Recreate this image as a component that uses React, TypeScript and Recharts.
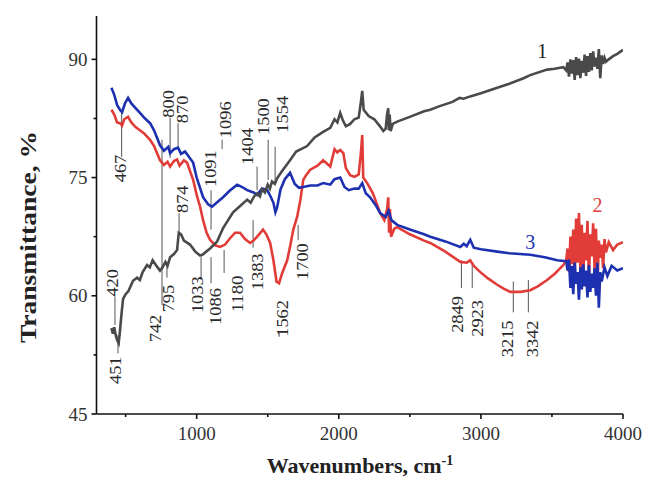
import React from 'react';
import { LineChart, Line, XAxis, YAxis, ReferenceLine, ReferenceDot } from 'recharts';

// Wavenumber (cm-1), transmittance (%)
const curve1: [number, number][] = [
  [400, 55.9], [410, 55.2], [420, 56.0], [430, 55.0], [440, 54.4], [451, 54.0], [460, 55.5], [470, 57.5],
  [482, 59.6], [500, 60.2], [520, 60.6], [552, 61.9], [580, 62.3], [600, 62.0], [620, 63.0], [651, 63.9],
  [670, 63.6], [690, 64.5], [721, 63.7], [742, 63.2], [756, 63.5], [780, 64.3], [795, 63.8], [813, 64.9],
  [840, 65.3], [862, 65.8], [874, 68.0], [890, 67.8], [910, 67.0], [953, 66.5], [990, 65.6], [1024, 65.1],
  [1040, 65.2], [1094, 66.0], [1144, 66.9], [1186, 68.6], [1256, 70.6], [1300, 71.3], [1355, 72.2],
  [1380, 71.8], [1404, 72.6], [1425, 73.0], [1445, 72.6], [1460, 73.5], [1480, 73.1], [1500, 74.1],
  [1515, 73.6], [1530, 74.5], [1550, 74.2], [1566, 74.9], [1600, 75.8], [1657, 77.2], [1700, 78.3],
  [1777, 79.0], [1830, 80.1], [1890, 80.8], [1940, 81.3], [1970, 82.4], [1990, 82.0], [2010, 83.2],
  [2030, 82.2], [2050, 81.5], [2080, 81.8], [2110, 82.4], [2140, 82.6], [2155, 84.5], [2165, 86.0],
  [2175, 83.6], [2210, 82.8], [2250, 82.4], [2290, 81.5], [2313, 80.9], [2330, 81.2], [2340, 83.0],
  [2348, 83.8], [2352, 81.0], [2358, 83.0], [2365, 80.9], [2380, 81.8], [2411, 82.1], [2500, 82.7],
  [2600, 83.4], [2644, 83.6], [2700, 84.0], [2800, 84.6], [2850, 85.1], [2878, 85.0], [2925, 85.3],
  [3000, 85.7], [3115, 86.4], [3200, 86.9], [3300, 87.6], [3347, 88.0], [3466, 88.7], [3520, 88.8],
  [3580, 89.0], [3600, 88.6], [3610, 89.6], [3620, 87.8], [3630, 90.0], [3640, 88.2], [3650, 89.9],
  [3660, 87.4], [3670, 90.3], [3680, 88.0], [3690, 90.1], [3700, 87.6], [3710, 89.8], [3720, 88.3],
  [3730, 90.6], [3740, 87.9], [3750, 90.4], [3760, 88.4], [3770, 90.8], [3780, 88.6], [3790, 91.0],
  [3800, 89.1], [3810, 90.2], [3820, 88.8], [3830, 91.3], [3840, 87.6], [3850, 90.5], [3860, 89.4],
  [3870, 90.2], [3880, 89.7], [3900, 90.0], [3930, 90.4], [3960, 90.7], [4000, 91.2],
];

const curve2: [number, number][] = [
  [400, 83.6], [420, 83.0], [440, 82.0], [460, 81.9], [475, 81.6], [490, 82.4], [517, 82.7], [540, 82.0],
  [570, 81.4], [600, 81.0], [630, 80.6], [672, 79.8], [700, 79.0], [742, 77.2], [770, 76.6], [795, 77.0],
  [813, 76.4], [840, 77.1], [862, 77.3], [880, 76.5], [910, 77.2], [932, 76.9], [975, 74.7], [1000, 72.8],
  [1024, 71.3], [1045, 69.6], [1070, 68.0], [1094, 67.1], [1130, 66.4], [1165, 66.2], [1200, 66.5],
  [1235, 67.3], [1270, 68.0], [1305, 68.0], [1340, 67.2], [1376, 66.7], [1400, 67.0], [1430, 67.6],
  [1467, 68.4], [1490, 67.8], [1517, 66.7], [1540, 64.5], [1562, 61.8], [1580, 61.6], [1600, 62.8],
  [1637, 64.5], [1660, 66.5], [1680, 68.4], [1707, 70.0], [1730, 72.2], [1750, 74.7], [1770, 75.3],
  [1799, 76.0], [1850, 76.5], [1890, 77.2], [1940, 76.4], [1970, 78.6], [1989, 78.2], [2010, 78.5],
  [2032, 78.1], [2050, 76.2], [2080, 75.3], [2110, 75.1], [2140, 75.4], [2155, 78.0], [2165, 80.4],
  [2172, 75.0], [2200, 74.3], [2240, 73.0], [2291, 70.5], [2320, 69.6], [2340, 71.0], [2348, 72.5],
  [2354, 68.0], [2360, 71.0], [2368, 67.5], [2390, 68.5], [2411, 68.7], [2500, 67.8], [2600, 67.0],
  [2644, 66.7], [2750, 65.6], [2855, 64.3], [2900, 64.2], [2925, 64.5], [2950, 63.8], [2996, 63.0],
  [3050, 62.2], [3115, 61.4], [3160, 60.9], [3207, 60.5], [3280, 60.5], [3347, 60.7], [3400, 61.2],
  [3466, 62.0], [3520, 62.8], [3580, 63.9], [3600, 64.5], [3610, 66.0], [3620, 63.0], [3630, 67.5],
  [3640, 64.0], [3650, 68.4], [3660, 62.5], [3670, 69.8], [3680, 64.2], [3690, 70.5], [3700, 63.5],
  [3710, 69.0], [3720, 61.5], [3730, 68.0], [3740, 64.5], [3750, 69.5], [3760, 62.0], [3770, 67.8],
  [3780, 65.0], [3790, 69.2], [3800, 63.2], [3810, 68.5], [3820, 60.8], [3830, 67.0], [3840, 64.8],
  [3850, 66.5], [3860, 63.5], [3870, 67.2], [3880, 65.5], [3900, 66.8], [3930, 65.8], [3960, 66.5],
  [4000, 66.8],
];

const curve3: [number, number][] = [
  [400, 86.4], [420, 85.5], [440, 84.2], [460, 83.6], [475, 83.3], [495, 84.4], [517, 85.1], [540, 84.4],
  [570, 83.8], [601, 83.2], [630, 82.6], [672, 81.9], [700, 81.0], [742, 79.1], [770, 78.4], [800, 78.9],
  [813, 78.1], [840, 78.6], [869, 78.8], [890, 78.0], [918, 78.3], [950, 77.5], [975, 76.9], [1000, 75.0],
  [1045, 72.5], [1080, 71.6], [1108, 71.3], [1140, 71.8], [1186, 72.5], [1230, 73.3], [1284, 74.1],
  [1320, 73.8], [1355, 73.4], [1400, 73.1], [1425, 72.8], [1460, 73.6], [1496, 73.4], [1520, 72.6],
  [1540, 71.8], [1554, 70.6], [1566, 71.2], [1590, 73.5], [1620, 74.8], [1657, 75.6], [1690, 74.2],
  [1720, 73.7], [1749, 73.8], [1800, 74.0], [1850, 74.0], [1890, 74.3], [1940, 74.1], [1970, 74.8],
  [2010, 75.0], [2040, 73.8], [2070, 73.4], [2110, 73.6], [2140, 73.6], [2165, 74.3], [2190, 73.0],
  [2220, 72.5], [2260, 71.5], [2291, 70.5], [2330, 70.0], [2350, 70.8], [2370, 69.6], [2411, 69.0],
  [2500, 68.4], [2600, 67.8], [2644, 67.5], [2750, 66.9], [2855, 66.2], [2880, 66.6], [2900, 66.3],
  [2925, 67.1], [2950, 66.1], [3000, 65.9], [3115, 65.6], [3200, 65.4], [3347, 65.2], [3450, 64.9],
  [3537, 64.5], [3600, 64.4], [3610, 63.2], [3620, 64.6], [3630, 61.0], [3640, 63.8], [3650, 60.2],
  [3660, 64.2], [3670, 61.5], [3680, 63.0], [3690, 59.5], [3700, 63.6], [3710, 60.8], [3720, 64.0],
  [3730, 61.2], [3740, 63.2], [3750, 59.8], [3760, 63.9], [3770, 60.5], [3780, 62.8], [3790, 61.0],
  [3800, 63.5], [3810, 60.0], [3820, 64.2], [3830, 58.5], [3840, 63.0], [3850, 61.8], [3870, 63.6],
  [3890, 62.5], [3920, 63.8], [3960, 63.2], [4000, 63.5],
];

const xTicks = [500, 1000, 1500, 2000, 2500, 3000, 3500, 4000];
const xLabeled = [1000, 2000, 3000, 4000];
const yTicks = [45, 52.5, 60, 67.5, 75, 82.5, 90];
const yLabeled = [45, 60, 75, 90];

// peak markers: label, line wavenumber, line from/to (%), text wavenumber, text start (%)
const peakLabels = ['467', '800', '870', '874', '1091', '1096', '1404', '1500', '1554', '420', '451', '742', '795',
  '1033', '1086', '1180', '1383', '1562', '1700', '2849', '2923', '3215', '3342'];
const peakLineX = [472, 813, 869, 876, 1101, 1179, 1425, 1503, 1552, 425, 446, 756, 791,
  1031, 1101, 1193, 1397, 1580, 1714, 2863, 2939, 3228, 3334];
const peakLineFrom = [83.2, 82.6, 81.9, 70.5, 73.4, 79.8, 76.4, 79.8, 78.9, 59.9, 55.0, 79.8, 64.3,
  64.9, 64.9, 65.8, 69.6, 55.3, 69.0, 64.5, 64.3, 61.8, 62.0];
const peakLineTo = [77.6, 77.5, 78.5, 68.0, 68.4, 78.6, 73.4, 74.7, 74.3, 56.3, 52.7, 58.8, 62.3,
  62.0, 61.6, 62.9, 66.1, 54.8, 67.1, 61.0, 61.0, 57.9, 57.9];
const peakTextX = [467, 799, 897, 897, 1094, 1200, 1355, 1467, 1601, 411, 432, 707, 799,
  1003, 1130, 1290, 1425, 1601, 1742, 2834, 2975, 3186, 3362];
const peakTextY = [74.4, 82.6, 81.9, 70.5, 73.8, 80.0, 76.6, 80.4, 80.7, 59.9, 48.8, 54.1, 57.9,
  57.8, 56.3, 57.9, 60.7, 54.8, 62.0, 55.3, 54.8, 52.2, 52.2];

const seriesNames = ['1', '2', '3'];
const seriesColors = ['#4a4a4a', '#e23c38', '#1d31b0'];
const seriesLabelX = [3432, 3820, 3348];
const seriesLabelY = [91.0, 71.5, 66.8];

const rows = (pts: [number, number][]) => pts.map(([w, t]) => ({ w, t }));
const FONT = "'Liberation Serif', 'DejaVu Serif', serif";

const XTick = (props: any) => {
  const { x, y, payload } = props;
  const major = xLabeled.includes(payload.value);
  return (
    <g>
      <line x1={x} x2={x} y1={y} y2={y + (major ? 5 : 3)} stroke="#111" strokeWidth={1.6} />
      {major && (
        <text x={x} y={y + 26} textAnchor="middle" fontSize={19} fontFamily={FONT} fill="#333">
          {payload.value}
        </text>
      )}
    </g>
  );
};

const YTick = (props: any) => {
  const { x, y, payload } = props;
  const major = yLabeled.includes(payload.value);
  return (
    <g>
      <line x1={x} x2={x - (major ? 5 : 3)} y1={y} y2={y} stroke="#111" strokeWidth={1.6} />
      {major && (
        <text x={x - 9} y={y} textAnchor="end" dominantBaseline="central" fontSize={19} fontFamily={FONT} fill="#333">
          {payload.value}
        </text>
      )}
    </g>
  );
};

export default function App() {
  const data1 = rows(curve1);
  const data2 = rows(curve2);
  const data3 = rows(curve3);
  return (
    <div style={{ position: 'absolute', left: 0, top: 0, width: 649, height: 485, background: '#fff' }}>
      <LineChart width={649} height={485} margin={{ top: 16, right: 26, bottom: 0, left: 0 }}>
        <XAxis
          dataKey="w"
          type="number"
          domain={[295, 4000]}
          ticks={xTicks}
          interval={0}
          allowDataOverflow
          height={71}
          tickSize={0}
          tickMargin={0}
          tickLine={false}
          axisLine={{ stroke: '#111', strokeWidth: 1.6 }}
          tick={<XTick />}
        />
        <YAxis
          type="number"
          domain={[45, 95.5]}
          ticks={yTicks}
          interval={0}
          allowDataOverflow
          width={96.5}
          tickSize={0}
          tickMargin={0}
          tickLine={false}
          axisLine={{ stroke: '#111', strokeWidth: 1.6 }}
          tick={<YTick />}
        />
        {peakLabels.map((lab, i) => (
          <ReferenceLine
            key={'pl' + i}
            segment={[{ x: peakLineX[i], y: peakLineFrom[i] }, { x: peakLineX[i], y: peakLineTo[i] }]}
            stroke="#555"
            strokeWidth={1}
            ifOverflow="visible"
          />
        ))}
        <Line data={data2} dataKey="t" type="linear" dot={false} stroke={seriesColors[1]} strokeWidth={2.6} isAnimationActive={false} />
        <Line data={data3} dataKey="t" type="linear" dot={false} stroke={seriesColors[2]} strokeWidth={2.6} isAnimationActive={false} />
        <Line data={data1} dataKey="t" type="linear" dot={false} stroke={seriesColors[0]} strokeWidth={2.6} isAnimationActive={false} />
        {peakLabels.map((lab, i) => (
          <ReferenceDot
            key={'pt' + i}
            x={peakTextX[i]}
            y={peakTextY[i]}
            r={0}
            ifOverflow="visible"
            shape={(p: any) => (
              <text
                x={p.cx}
                y={p.cy}
                transform={`rotate(-90 ${p.cx} ${p.cy})`}
                textAnchor="start"
                dominantBaseline="central"
                fontSize={16}
                textLength={lab.length * 9.2}
                lengthAdjust="spacingAndGlyphs"
                fontFamily={FONT}
                fill="#2a2a2a"
              >
                {lab}
              </text>
            )}
          />
        ))}
        {seriesNames.map((n, i) => (
          <ReferenceDot
            key={'sn' + i}
            x={seriesLabelX[i]}
            y={seriesLabelY[i]}
            r={0}
            ifOverflow="visible"
            shape={(p: any) => (
              <text x={p.cx} y={p.cy} textAnchor="middle" dominantBaseline="central" fontSize={20}
                fontFamily={FONT} fill={i === 0 ? '#222' : seriesColors[i]}>
                {n}
              </text>
            )}
          />
        ))}
      </LineChart>
      <svg width={649} height={485} style={{ position: 'absolute', left: 0, top: 0, pointerEvents: 'none' }}>
        <text x={28} y={237} transform="rotate(-90 28 237)" textAnchor="middle" dominantBaseline="central"
          fontSize={23} fontWeight="bold" fontFamily={FONT} fill="#222"
          textLength={212} lengthAdjust="spacingAndGlyphs">
          Transmittance, %
        </text>
        <text x={360} y={473} textAnchor="middle" fontSize={22} fontWeight="bold" fontFamily={FONT} fill="#222">
          Wavenumbers, cm<tspan dy={-8} fontSize={14}>-1</tspan>
        </text>
      </svg>
    </div>
  );
}
